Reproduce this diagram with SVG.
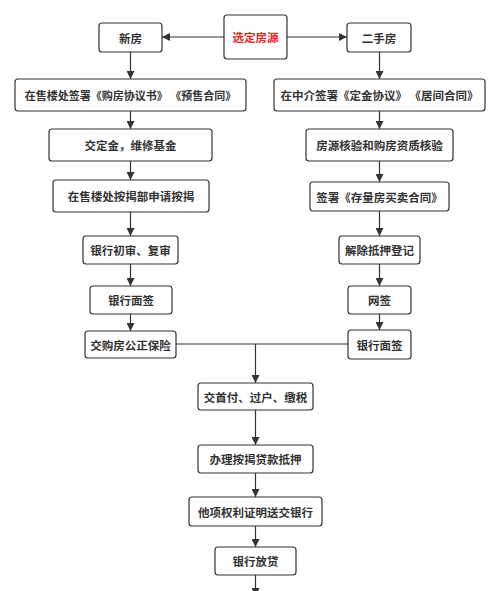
<svg xmlns="http://www.w3.org/2000/svg" width="500" height="591" viewBox="0 0 500 591">
<style>
.box{fill:#fff;stroke:#333;stroke-width:1.2}
.t{font-family:"Noto Sans CJK SC","Liberation Sans",sans-serif;font-size:11.5px;font-weight:bold;fill:#333;text-anchor:middle;dominant-baseline:central}
.red{fill:#e8262a}
.ln{stroke:#333;stroke-width:1.2;fill:none}
</style>
<defs>
<marker id="ah" viewBox="0 0 10 10" refX="10" refY="5" markerWidth="9" markerHeight="8" markerUnits="userSpaceOnUse" orient="auto">
<path d="M0,0 L10,5 L0,10 z" fill="#333"/>
</marker>
</defs>
<rect width="500" height="591" fill="#fff"/>
<g id="connectors">
<line class="ln" x1="224" y1="37" x2="162" y2="37" marker-end="url(#ah)"/>
<line class="ln" x1="287" y1="37" x2="347" y2="37" marker-end="url(#ah)"/>
<line class="ln" x1="130.5" y1="52" x2="130.5" y2="79" marker-end="url(#ah)"/>
<line class="ln" x1="130.5" y1="111" x2="130.5" y2="129" marker-end="url(#ah)"/>
<line class="ln" x1="130.5" y1="161" x2="130.5" y2="180" marker-end="url(#ah)"/>
<line class="ln" x1="130.5" y1="212" x2="130.5" y2="236" marker-end="url(#ah)"/>
<line class="ln" x1="130.5" y1="264" x2="130.5" y2="286" marker-end="url(#ah)"/>
<line class="ln" x1="130.5" y1="314" x2="130.5" y2="331" marker-end="url(#ah)"/>
<line class="ln" x1="379.5" y1="52" x2="379.5" y2="79" marker-end="url(#ah)"/>
<line class="ln" x1="379.5" y1="111" x2="379.5" y2="129" marker-end="url(#ah)"/>
<line class="ln" x1="379.5" y1="161" x2="379.5" y2="182" marker-end="url(#ah)"/>
<line class="ln" x1="379.5" y1="211" x2="379.5" y2="236" marker-end="url(#ah)"/>
<line class="ln" x1="379.5" y1="264" x2="379.5" y2="286" marker-end="url(#ah)"/>
<line class="ln" x1="379.5" y1="314" x2="379.5" y2="330" marker-end="url(#ah)"/>
<line class="ln" x1="176" y1="344" x2="348" y2="344"/>
<line class="ln" x1="255.5" y1="344" x2="255.5" y2="383" marker-end="url(#ah)"/>
<line class="ln" x1="255.5" y1="410" x2="255.5" y2="445" marker-end="url(#ah)"/>
<line class="ln" x1="255.5" y1="473" x2="255.5" y2="497" marker-end="url(#ah)"/>
<line class="ln" x1="255.5" y1="526" x2="255.5" y2="547" marker-end="url(#ah)"/>
<line class="ln" x1="255.5" y1="575" x2="255.5" y2="596" marker-end="url(#ah)"/>
</g>
<g id="n0"><rect class="box" x="224" y="15" width="63" height="44" rx="3"/><text class="t red" x="255.5" y="37">选定房源</text></g>
<g id="n1"><rect class="box" x="99" y="23" width="63" height="29" rx="3"/><text class="t" x="130.5" y="37.5">新房</text></g>
<g id="n2"><rect class="box" x="347" y="23" width="64" height="29" rx="3"/><text class="t" x="379" y="37.5">二手房</text></g>
<g id="n3"><rect class="box" x="15" y="79" width="231" height="32" rx="3"/><text class="t" x="130.5" y="95" style="font-size:11px">在售楼处签署《购房协议书》 《预售合同》</text></g>
<g id="n4"><rect class="box" x="274" y="79" width="211" height="32" rx="3"/><text class="t" x="379.5" y="95">在中介签署《定金协议》 《居间合同》</text></g>
<g id="n5"><rect class="box" x="49" y="129" width="163" height="32" rx="3"/><text class="t" x="130.5" y="145">交定金，维修基金</text></g>
<g id="n6"><rect class="box" x="306" y="129" width="147" height="32" rx="3"/><text class="t" x="379.5" y="145">房源核验和购房资质核验</text></g>
<g id="n7"><rect class="box" x="53" y="180" width="156" height="32" rx="3"/><text class="t" x="131" y="196">在售楼处按揭部申请按揭</text></g>
<g id="n8"><rect class="box" x="310" y="182" width="139" height="29" rx="3"/><text class="t" x="379.5" y="196.5">签署《存量房买卖合同》</text></g>
<g id="n9"><rect class="box" x="83" y="236" width="95" height="28" rx="3"/><text class="t" x="130.5" y="250">银行初审、复审</text></g>
<g id="n10"><rect class="box" x="339" y="236" width="81" height="28" rx="3"/><text class="t" x="379.5" y="250">解除抵押登记</text></g>
<g id="n11"><rect class="box" x="90" y="286" width="82" height="28" rx="3"/><text class="t" x="131" y="300">银行面签</text></g>
<g id="n12"><rect class="box" x="348" y="286" width="63" height="28" rx="3"/><text class="t" x="379.5" y="300">网签</text></g>
<g id="n13"><rect class="box" x="85" y="331" width="91" height="27" rx="3"/><text class="t" x="130.5" y="344.5">交购房公正保险</text></g>
<g id="n14"><rect class="box" x="348" y="330" width="63" height="29" rx="3"/><text class="t" x="379.5" y="344.5">银行面签</text></g>
<g id="n15"><rect class="box" x="198" y="383" width="115" height="27" rx="3"/><text class="t" x="255.5" y="396.5">交首付、过户、缴税</text></g>
<g id="n16"><rect class="box" x="198" y="445" width="115" height="28" rx="3"/><text class="t" x="255.5" y="459">办理按揭贷款抵押</text></g>
<g id="n17"><rect class="box" x="189" y="497" width="133" height="29" rx="3"/><text class="t" x="255.5" y="511.5">他项权利证明送交银行</text></g>
<g id="n18"><rect class="box" x="215" y="547" width="81" height="28" rx="3"/><text class="t" x="255.5" y="561">银行放贷</text></g>
</svg>
